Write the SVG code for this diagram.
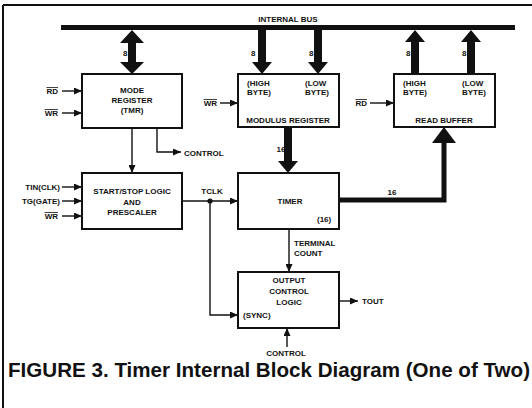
<svg xmlns="http://www.w3.org/2000/svg" width="532" height="408" viewBox="0 0 532 408">
<style>
text{font-family:"Liberation Sans",Arial,sans-serif;font-weight:bold;font-size:8px;fill:#111}
.m{text-anchor:middle}.e{text-anchor:end}
.box{fill:#fff;stroke:#111;stroke-width:2}
.ln{fill:none;stroke:#111;stroke-width:1.4}
.thk{fill:#111;stroke:none}
.ov{text-decoration:overline}
.title{font-size:19.5px;font-weight:bold}
</style>
<defs>
<marker id="ah" markerUnits="userSpaceOnUse" markerWidth="9" markerHeight="7" refX="8" refY="3.5" orient="auto">
<path d="M0,0 L8,3.5 L0,7 z" fill="#111"/>
</marker>
</defs>
<g id="frame">
<path d="M3,5 H532 M3,5 V408" fill="none" stroke="#111" stroke-width="2"/>
</g>
<g id="bus">
<rect x="61" y="25" width="454" height="5" fill="#111"/>
<text class="m" x="288" y="22">INTERNAL BUS</text>
</g>
<g id="connectors">
<polygon class="thk" points="132,30 144,43 136,43 136,62 144,62 132,74 120,62 128,62 128,43 120,43"/>
<polygon class="thk" points="258,30 266,30 266,62 272,62 262,74 252,62 258,62"/>
<polygon class="thk" points="314,30 322,30 322,62 328,62 318,74 308,62 314,62"/>
<polygon class="thk" points="411,74 419,74 419,42 425,42 415,30 405,42 411,42"/>
<polygon class="thk" points="467,74 475,74 475,42 481,42 471,30 461,42 467,42"/>
<polygon class="thk" points="284,127 292,127 292,161 298,161 288,173 278,161 284,161"/>
<path d="M339,200 H444 V143" fill="none" stroke="#111" stroke-width="5"/>
<polygon class="thk" points="444,127 456,143 432,143"/>
<text x="123" y="56">8</text>
<text x="251" y="56">8</text>
<text x="309" y="56">8</text>
<text x="406" y="56">8</text>
<text x="462" y="56">8</text>
<text class="m" x="281" y="152">16</text>
<text class="m" x="392" y="195">16</text>
<path class="ln" d="M62,91 H82" marker-end="url(#ah)"/>
<path class="ln" d="M62,113 H82" marker-end="url(#ah)"/>
<path class="ln" d="M220,103 H238" marker-end="url(#ah)"/>
<path class="ln" d="M370,103 H394" marker-end="url(#ah)"/>
<path class="ln" d="M132,128 V173" marker-end="url(#ah)"/>
<path class="ln" d="M157,128 V152 H181" marker-end="url(#ah)"/>
<path class="ln" d="M62,187 H82" marker-end="url(#ah)"/>
<path class="ln" d="M62,201 H82" marker-end="url(#ah)"/>
<path class="ln" d="M62,216 H82" marker-end="url(#ah)"/>
<path class="ln" d="M182,201 H238" marker-end="url(#ah)"/>
<circle cx="210" cy="201" r="2.6" fill="#111"/>
<path class="ln" d="M210,201 V315 H238" marker-end="url(#ah)"/>
<path class="ln" d="M289,229 V272" marker-end="url(#ah)"/>
<path class="ln" d="M339,301 H358" marker-end="url(#ah)"/>
<path class="ln" d="M287,347 V328" marker-end="url(#ah)"/>
<text class="e ov" x="58" y="94">RD</text>
<text class="e ov" x="58" y="116">WR</text>
<text class="e ov" x="217" y="106">WR</text>
<text class="e ov" x="367" y="106">RD</text>
<text x="184" y="156">CONTROL</text>
<text class="e" x="60" y="190">TIN(CLK)</text>
<text class="e" x="60" y="204">TG(GATE)</text>
<text class="e ov" x="58" y="219">WR</text>
<text class="m" x="212" y="194">TCLK</text>
<text x="294" y="246">TERMINAL</text>
<text x="294" y="256">COUNT</text>
<text x="362" y="304">TOUT</text>
<text class="m" x="286" y="356">CONTROL</text>
</g>
<g id="mode-register">
<rect class="box" x="82" y="74" width="100" height="54"/>
<text class="m" x="132" y="93">MODE</text>
<text class="m" x="132" y="103">REGISTER</text>
<text class="m" x="132" y="113">(TMR)</text>
</g>
<g id="modulus-register">
<rect class="box" x="238" y="74" width="101" height="53"/>
<text x="247" y="86">(HIGH</text>
<text x="247" y="95">BYTE)</text>
<text x="305" y="86">(LOW</text>
<text x="305" y="95">BYTE)</text>
<text class="m" x="288" y="123">MODULUS REGISTER</text>
</g>
<g id="read-buffer">
<rect class="box" x="394" y="74" width="101" height="53"/>
<text x="403" y="86">(HIGH</text>
<text x="403" y="95">BYTE)</text>
<text x="462" y="86">(LOW</text>
<text x="462" y="95">BYTE)</text>
<text class="m" x="444" y="123">READ BUFFER</text>
</g>
<g id="start-stop">
<rect class="box" x="82" y="173" width="100" height="56"/>
<text class="m" x="132" y="194">START/STOP LOGIC</text>
<text class="m" x="132" y="205">AND</text>
<text class="m" x="132" y="215">PRESCALER</text>
</g>
<g id="timer">
<rect class="box" x="238" y="173" width="101" height="56"/>
<text class="m" x="290" y="204">TIMER</text>
<text x="317" y="222">(16)</text>
</g>
<g id="output-control">
<rect class="box" x="238" y="272" width="101" height="56"/>
<text class="m" x="289" y="283">OUTPUT</text>
<text class="m" x="289" y="294">CONTROL</text>
<text class="m" x="289" y="305">LOGIC</text>
<text x="243" y="318">(SYNC)</text>
</g>
<g id="caption">
<text class="title" x="8" y="377" textLength="522" lengthAdjust="spacingAndGlyphs">FIGURE 3. Timer Internal Block Diagram (One of Two)</text>
</g>
</svg>
